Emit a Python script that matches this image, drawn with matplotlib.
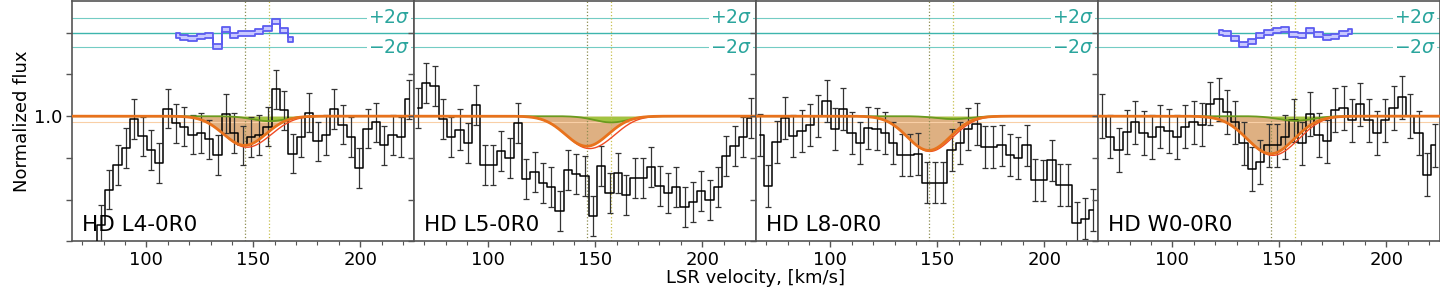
import numpy as np
import matplotlib
matplotlib.use("Agg")
import matplotlib.pyplot as plt
from matplotlib.ticker import MultipleLocator
from matplotlib.transforms import blended_transform_factory

plt.rcParams["font.family"] = ["DejaVu Sans"]
plt.rcParams["mathtext.fontset"] = "dejavusans"

# ---------------------------------------------------------------------------
# data
# ---------------------------------------------------------------------------
velocity = [67.0, 70.9, 74.8, 78.7, 82.6, 86.5, 90.4, 94.3, 98.2, 102.1,
            106.0, 109.9, 113.8, 117.7, 121.6, 125.5, 129.4, 133.3, 137.2, 141.1,
            145.0, 148.9, 152.8, 156.7, 160.6, 164.5, 168.4, 172.3, 176.2, 180.1,
            184.0, 187.9, 191.8, 195.7, 199.6, 203.5, 207.4, 211.3, 215.2, 219.1,
            223.0]

labels = ["HD L4-0R0", "HD L5-0R0", "HD L8-0R0", "HD W0-0R0"]

flux_l4 = [0.55, 0.58, 0.64, 0.74, 0.824, 0.883, 0.924, 0.993, 0.952, 0.919,
           0.888, 1.018, 0.983, 0.975, 0.956, 0.96, 0.945, 0.907, 1.006, 0.96,
           0.93, 0.95, 0.955, 0.975, 1.064, 1.014, 0.91, 0.95, 1.008, 0.94,
           0.955, 1.017, 0.98, 0.95, 0.876, 0.97, 0.985, 0.93, 0.955, 0.95,
           1.04]
flux_l5 = [1.02, 1.08, 1.072, 0.993, 0.95, 0.968, 0.935, 1.026, 0.883, 0.883,
           0.917, 0.90, 0.983, 0.85, 0.867, 0.84, 0.83, 0.774, 0.871, 0.862,
           0.857, 0.762, 0.881, 0.816, 0.864, 0.812, 0.852, 0.852, 0.879, 0.833,
           0.816, 0.831, 0.783, 0.795, 0.82, 0.80, 0.83, 0.905, 0.929, 0.95,
           0.995]
flux_l8 = [0.955, 0.832, 0.939, 0.995, 0.953, 0.964, 0.979, 1.0, 1.036, 0.97,
           1.017, 0.96, 0.935, 0.972, 0.97, 0.96, 0.935, 0.907, 0.907, 0.91,
           0.841, 0.841, 0.841, 0.919, 0.935, 0.97, 0.981, 0.927, 0.927, 0.93,
           0.907, 0.9, 0.93, 0.847, 0.846, 0.894, 0.836, 0.836, 0.745, 0.755,
           0.776]
flux_w0 = [1.0, 0.951, 0.919, 0.962, 0.985, 0.96, 0.95, 0.975, 0.965, 0.95,
           0.975, 0.985, 0.98, 1.03, 1.04, 1.01, 0.985, 0.935, 0.874, 0.89,
           0.93, 0.93, 0.95, 0.99, 0.935, 1.005, 0.955, 0.94, 1.015, 1.02,
           0.99, 1.028, 0.99, 0.96, 0.99, 1.02, 1.045, 1.0, 0.96, 0.86,
           0.93]
fluxes = [flux_l4, flux_l5, flux_l8, flux_w0]
flux_err = [0.047, 0.048, 0.05, 0.052]

# residuals (shown only for two transitions), first bin index + values
resid_start = [12, None, None, 14]
resid_l4 = [1.193, 1.188, 1.186, 1.191, 1.193, 1.167, 1.207, 1.193, 1.198,
            1.197, 1.203, 1.21, 1.226, 1.205, 1.183]
resid_w0 = [1.201, 1.199, 1.185, 1.172, 1.178, 1.192, 1.200, 1.205, 1.208,
            1.195, 1.192, 1.206, 1.195, 1.189, 1.19, 1.199, 1.203]
residuals = [resid_l4, None, None, resid_w0]
resid_zero = 1.2
two_sigma = 0.035

# model components
comp_v = [146.0, 157.5]
depth1 = [0.070, 0.072, 0.082, 0.090]
width1 = [10.0, 10.0, 10.0, 11.0]
depth2 = [0.012, 0.015, 0.007, 0.011]
width2 = 8.0

# ---------------------------------------------------------------------------
fig, axes = plt.subplots(1, 4, figsize=(14.4, 2.88), dpi=100, sharey=True)
fig.subplots_adjust(left=0.0497, right=0.9997, top=0.997, bottom=0.1615, wspace=0)

teal = "#3db5ad"
vv = np.linspace(55, 235, 900)
v = np.array(velocity)

for i, ax in enumerate(axes):
    f = np.array(fluxes[i])
    prof1 = 1 - depth1[i] * np.exp(-0.5 * ((vv - comp_v[0]) / width1[i]) ** 2)
    prof2 = 1 - depth2[i] * np.exp(-0.5 * ((vv - comp_v[1]) / width2) ** 2)
    total = prof1 * prof2

    ax.fill_between(vv, prof1, 1, color="#d9a36c", alpha=0.85, lw=0, zorder=1)
    ax.fill_between(vv, prof2, 1, color="#9cc73a", alpha=0.9, lw=0, zorder=1.5)
    ax.axhline(0.986, color="#f9cfa6", lw=0.8, zorder=1.2)

    ax.errorbar(v, f, yerr=flux_err[i], fmt="none", ecolor="#333333",
                elinewidth=0.9, capsize=2, capthick=0.9, zorder=2.5)
    ax.plot(v, f, drawstyle="steps-mid", color="black", lw=1.1, zorder=3)

    ax.plot(vv, prof2, color="#6a9a1e", lw=1.3, zorder=4)
    ax.plot(vv, total, color="#f04a24", lw=1.0, zorder=4.5)
    ax.plot(vv, prof1, color="#e8721c", lw=2.0, zorder=5)

    ax.axvline(comp_v[0], color="#8c8c50", lw=0.9, ls=":", zorder=2)
    ax.axvline(comp_v[1], color="#c8c050", lw=0.9, ls=":", zorder=2)

    # residual panel
    ax.axhline(resid_zero, color=teal, lw=1.0, zorder=1)
    ax.axhline(resid_zero + two_sigma, color="#74ccc4", lw=0.8, zorder=1)
    ax.axhline(resid_zero - two_sigma, color="#74ccc4", lw=0.8, zorder=1)
    trans = blended_transform_factory(ax.transAxes, ax.transData)
    for off, txt in [(two_sigma, r"$+2\sigma$"), (-two_sigma, r"$-2\sigma$")]:
        ax.text(0.99, resid_zero + off, txt, transform=trans, ha="right",
                va="center", fontsize=13.5, color="#2aa59d", zorder=6,
                bbox=dict(facecolor="white", edgecolor="none", pad=1.0))

    if residuals[i] is not None:
        r = np.array(residuals[i])
        rv = v[resid_start[i]:resid_start[i] + len(r)]
        ax.fill_between(rv, r - 0.006, r + 0.006, step="mid",
                        facecolor="#c8c8ff", edgecolor="#5c5cf0", lw=1.3, zorder=4)

    ax.text(0.03, 0.07, labels[i], transform=ax.transAxes, fontsize=15.5,
            ha="left", va="center", zorder=7)

    ax.set_xlim(65, 225)
    ax.set_ylim(0.7, 1.276)
    ax.xaxis.set_major_locator(MultipleLocator(50))
    ax.xaxis.set_minor_locator(MultipleLocator(10))
    ax.set_yticks([0.7, 0.8, 0.9, 1.0, 1.1, 1.2])
    ax.tick_params(axis="both", which="major", direction="out", length=4,
                   width=1.0, color="#555555", labelsize=13, pad=2.5)
    ax.tick_params(axis="both", which="minor", direction="out", length=3,
                   width=0.8, color="#555555")
    for sp in ax.spines.values():
        sp.set_color("#555555")
        sp.set_linewidth(1.2)

axes[0].set_yticklabels(["", "", "", "1.0", "", ""])
fig.text(0.015, 0.58, "Normalized flux", rotation=90, ha="center", va="center",
         fontsize=13)
fig.text(0.525, 0.035, "LSR velocity, [km/s]", ha="center", va="center",
         fontsize=13)

fig.savefig("out.png", dpi=100)
